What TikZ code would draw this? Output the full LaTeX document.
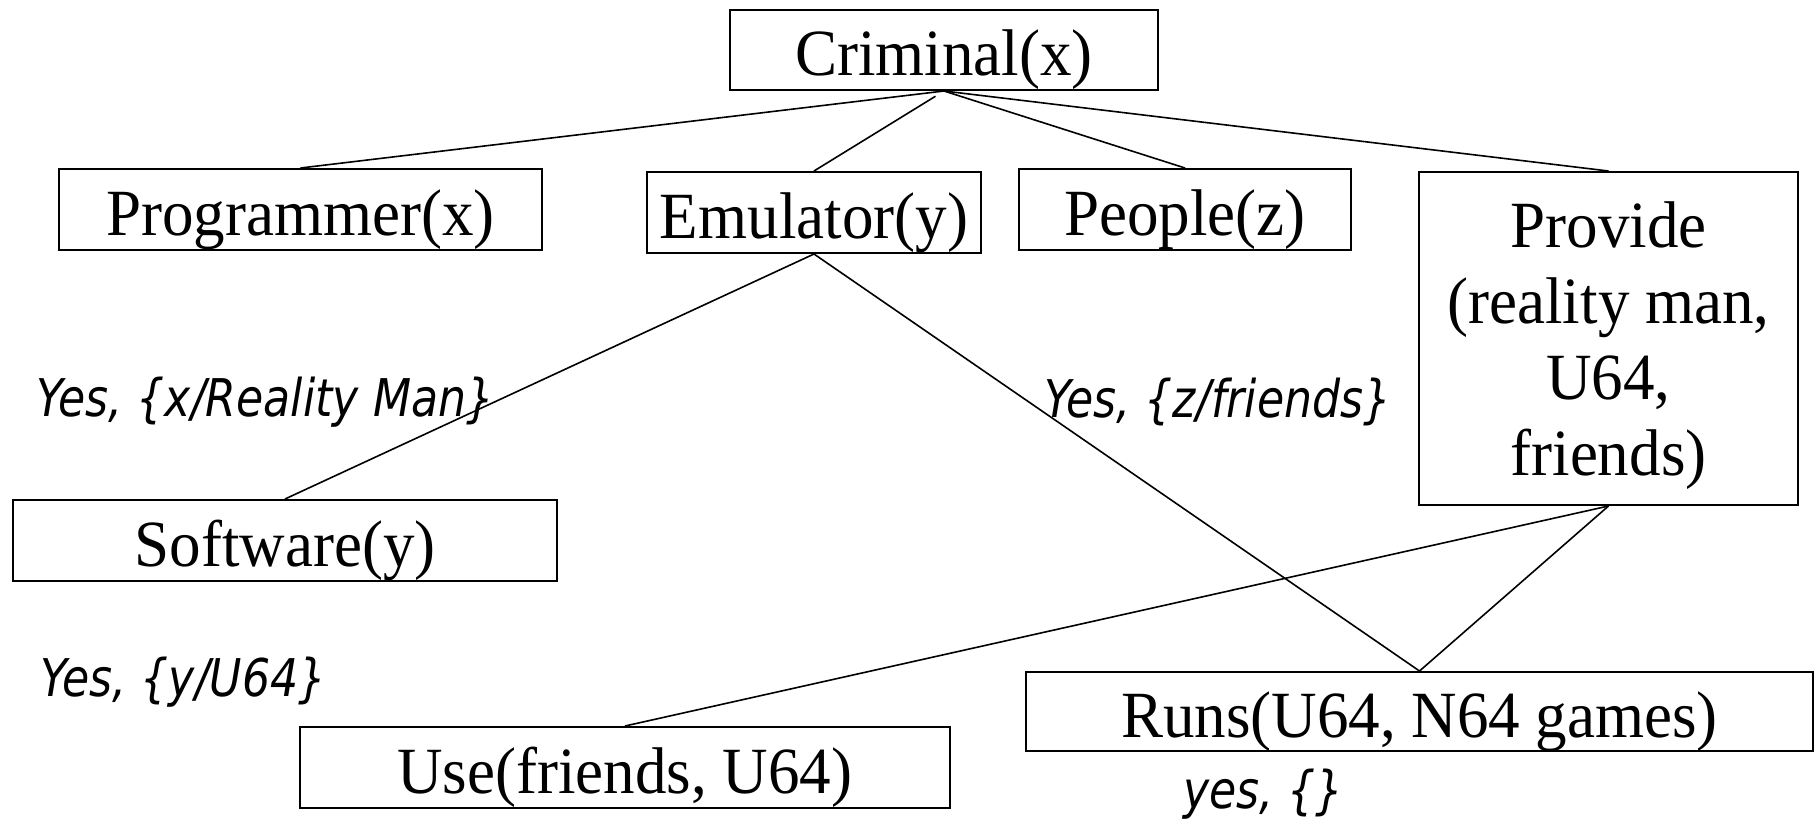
\documentclass[tikz,border=0pt]{standalone}
\usepackage{fontspec}
\setmainfont{Liberation Serif}
\newfontfamily\boxfont[FakeStretch=0.955]{Liberation Serif}
\newfontfamily\labfont[FakeStretch=0.85]{DejaVu Sans}
\begin{document}
\begin{tikzpicture}[x=0.5pt,y=-0.5pt,
  box/.style={draw=black, line width=1pt, inner sep=0pt, align=center,
    font=\boxfont\fontsize{33pt}{38pt}\selectfont},
  onebox/.style={box, text height=25.5pt, text depth=0pt},
  conn/.style={draw=black, line width=0.8pt},
  lab/.style={inner sep=0pt, anchor=base west,
    font=\labfont\itshape\fontsize{26pt}{30pt}\selectfont}]
\useasboundingbox (0,0) rectangle (1817,821);
\node[onebox, minimum width=214pt, minimum height=40pt] (crim) at (944,50) {Criminal(x)};
\node[onebox, minimum width=241.5pt, minimum height=40.5pt] (prog) at (300.5,209.5) {Programmer(x)};
\node[onebox, minimum width=167pt, minimum height=40.5pt] (emu) at (814,212.5) {Emulator(y)};
\node[onebox, minimum width=166pt, minimum height=40.5pt] (peop) at (1185,209.5) {People(z)};
\node[box, minimum width=189.5pt, minimum height=166.5pt] (prov) at (1608.5,338.5)
  {\rule{0pt}{30pt}Provide\\(reality man,\\U64,\\friends)};
\node[onebox, minimum width=272pt, minimum height=40.5pt] (soft) at (285,540.5) {Software(y)};
\node[onebox, minimum width=325pt, minimum height=40.5pt] (use) at (625,767.5) {Use(friends, U64)};
\node[onebox, minimum width=393.5pt, minimum height=39.5pt] (runs) at (1419.5,711.5) {Runs(U64, N64 games)};

\draw[conn] (crim.south) -- (prog.north);
\draw[conn, shorten <=5pt] (crim.south) -- (emu.north);
\draw[conn] (crim.south) -- (peop.north);
\draw[conn] (crim.south) -- (prov.north);
\draw[conn] (emu.south) -- (soft.north);
\draw[conn] (emu.south) -- (runs.north);
\draw[conn] (prov.south) -- (use.north);
\draw[conn] (prov.south) -- (runs.north);

\node[lab] (l1) at (36,416) {Yes, \{x/Reality Man\}};
\node[lab] (l2) at (1044,417) {Yes, \{z/friends\}};
\node[lab] (l3) at (40,696) {Yes, \{y/U64\}};
\node[lab] (l4) at (1183,808) {yes, \{\}};
\end{tikzpicture}
\end{document}
